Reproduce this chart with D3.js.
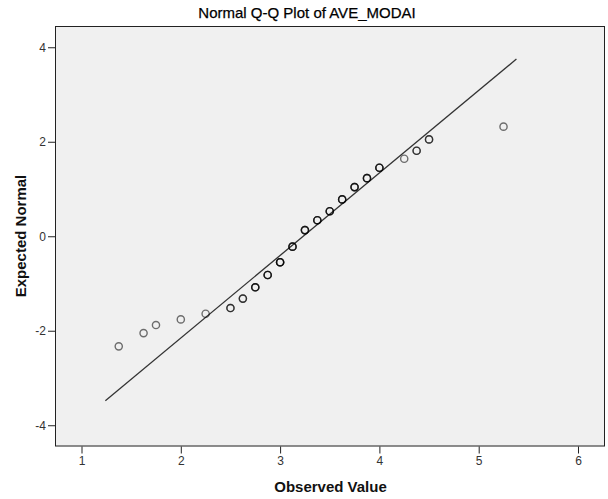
<!DOCTYPE html>
<html>
<head>
<meta charset="utf-8">
<script src="https://cdn.jsdelivr.net/npm/d3@7"></script>
<style>
html,body{margin:0;padding:0;background:#fff;}
svg{display:block;}
</style>
</head>
<body>
<script>
// ---- data ----
const observed = [1.375,1.625,1.75,2.0,2.25,2.5,2.625,2.75,2.875,3.0,3.125,3.25,3.375,3.5,3.625,3.75,3.875,4.0,4.25,4.375,4.5,5.25];
const expectedNormal = [-2.33,-2.05,-1.88,-1.76,-1.64,-1.52,-1.32,-1.08,-0.82,-0.55,-0.22,0.13,0.34,0.53,0.78,1.04,1.23,1.45,1.64,1.81,2.05,2.32];
const caseCounts = [1,1,1,1,1,2,2,3,3,4,3,3,3,3,3,3,3,3,1,2,2,1];
const refLineX = [1.24, 5.38];
const refLineY = [-3.48, 3.75];
const xTicks = [1,2,3,4,5,6];
const yTicks = [-4,-2,0,2,4];
const titleText = "Normal Q-Q Plot of AVE_MODAI";
const xLabel = "Observed Value";
const yLabel = "Expected Normal";

const W = 608, H = 499;
const plot = {left:55, right:605, top:26, bottom:446.5};

const svg = d3.select("body").append("svg").attr("width", W).attr("height", H);

const x = d3.scaleLinear().domain([0.733, 6.272]).range([plot.left, plot.right]);
const y = d3.scaleLinear().domain([-4.45, 4.45]).range([plot.bottom, plot.top]);

svg.append("rect").attr("x", plot.left).attr("y", plot.top)
  .attr("width", plot.right - plot.left).attr("height", plot.bottom - plot.top)
  .attr("fill", "#f0f0f0");

const font = "'Liberation Sans', Arial, sans-serif";
const plainFmt = d => String(d);

// axes
const xAxis = svg.append("g").attr("transform", `translate(0,${plot.bottom})`)
  .call(d3.axisBottom(x).tickValues(xTicks).tickSize(7).tickPadding(3).tickFormat(plainFmt));
const yAxis = svg.append("g").attr("transform", `translate(${plot.left},0)`)
  .call(d3.axisLeft(y).tickValues(yTicks).tickSize(7).tickPadding(2).tickFormat(plainFmt));
[xAxis, yAxis].forEach(g => {
  g.select(".domain").remove();
  g.selectAll(".tick line").attr("stroke", "#222").attr("stroke-width", 1);
  g.selectAll(".tick text").attr("fill", "#333").style("font-family", font).style("font-size", "12px");
});
yAxis.selectAll(".tick text").attr("dy", "0.35em");

// frame
svg.append("rect").attr("x", plot.left + 0.5).attr("y", plot.top + 0.5)
  .attr("width", plot.right - plot.left - 1).attr("height", plot.bottom - plot.top - 1)
  .attr("fill", "none").attr("stroke", "#222").attr("stroke-width", 1);

// reference line
svg.append("line")
  .attr("x1", x(refLineX[0])).attr("y1", y(refLineY[0]))
  .attr("x2", x(refLineX[1])).attr("y2", y(refLineY[1]))
  .attr("stroke", "#333").attr("stroke-width", 1.3);

// points (overlapping cases drawn repeatedly -> darker)
const pts = [];
observed.forEach((v, i) => {
  for (let k = 0; k < caseCounts[i]; k++) pts.push({x: v, y: expectedNormal[i]});
});
svg.append("g").selectAll("circle").data(pts).join("circle")
  .attr("cx", d => x(d.x)).attr("cy", d => y(d.y)).attr("r", 3.6)
  .attr("fill", "none").attr("stroke", "rgba(0,0,0,0.55)").attr("stroke-width", 1.4);

// title and labels
svg.append("text").attr("x", 307).attr("y", 18).attr("text-anchor", "middle")
  .style("font-family", font).style("font-size", "15px").attr("fill", "#000")
  .attr("stroke", "#000").attr("stroke-width", 0.25).text(titleText);
svg.append("text").attr("x", 330.5).attr("y", 492).attr("text-anchor", "middle")
  .style("font-family", font).style("font-size", "15px").style("font-weight", "bold").attr("fill", "#111").text(xLabel);
svg.append("text").attr("transform", "translate(26,236) rotate(-90)").attr("text-anchor", "middle")
  .style("font-family", font).style("font-size", "15px").style("font-weight", "bold").attr("fill", "#111").text(yLabel);
</script>
</body>
</html>
